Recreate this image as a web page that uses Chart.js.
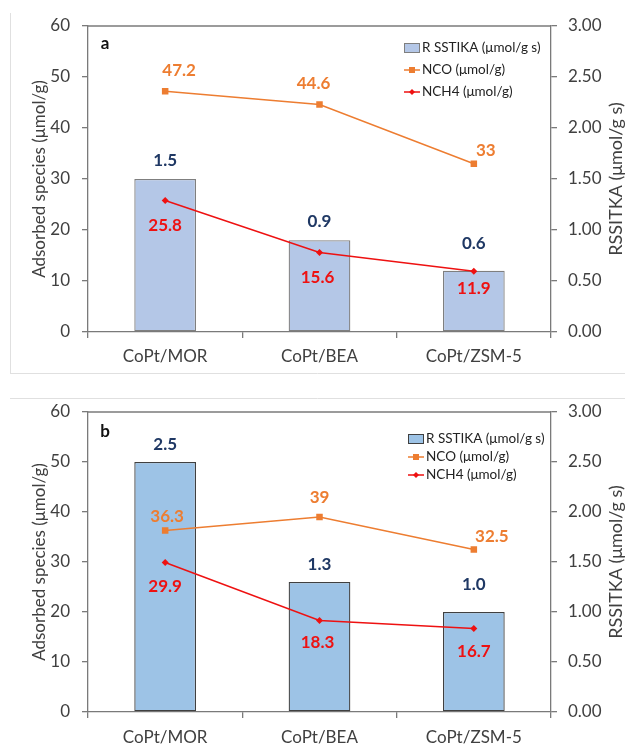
<!DOCTYPE html>
<html lang="en">
<head>
    <meta charset="UTF-8">
    <title>Adsorbed species and RSSITKA</title>
    <script src="https://cdn.jsdelivr.net/npm/chart.js@4.4.1/dist/chart.umd.min.js"></script>
    <style>
        body { margin: 0; background: #fff; }
        canvas { display: block; }
    </style>
</head>
<body>
    <canvas id="chartA" width="625" height="376"></canvas>
    <canvas id="chartB" width="625" height="368"></canvas>
<script>
// data
const categories = ['CoPt/MOR', 'CoPt/BEA', 'CoPt/ZSM-5'];
const rateA = [1.5, 0.9, 0.6];
const ncoA = [47.2, 44.6, 33];
const nch4A = [25.8, 15.6, 11.9];
const rateB = [2.5, 1.3, 1.0];
const ncoB = [36.3, 39, 32.5];
const nch4B = [29.9, 18.3, 16.7];
const leftMax = 60, leftStep = 10;
const rightMax = 3, rightStep = 0.5;

// label nudges (px), like the hand-placed labels in the original
const offRateA = [[0, -18], [0, -19], [0, -27]];
const offNcoA = [[14, -21], [-6, -21], [12, -13]];
const offNch4A = [[0, 25], [-2, 25], [0, 17]];
const offRateB = [[0, -17], [0, -17], [0, -27]];
const offNcoB = [[2, -14], [0, -19], [18, -13]];
const offNch4B = [[0, 24], [-2, 22], [0, 23]];

const FONT = 'Lato, "Open Sans", sans-serif';
const AXIS = '#7a7a7a';
const TXT = '#404040';
const ORANGE = '#ed7d31';
const RED = '#ee1111';
const NAVY = '#1f3864';

const decor = {
    id: 'decor',
    beforeDraw(chart, args, o) {
        const ctx = chart.ctx;
        ctx.save();
        ctx.fillStyle = '#fff';
        ctx.fillRect(0, 0, chart.width, chart.height);
        ctx.strokeStyle = '#e0e0e0';
        ctx.lineWidth = 1;
        ctx.beginPath();
        o.frame.forEach(function (s) { ctx.moveTo(s[0], s[1]); ctx.lineTo(s[2], s[3]); });
        ctx.stroke();
        ctx.restore();
    },
    afterDatasetsDraw(chart, args, o) {
        const ctx = chart.ctx;
        const ca = chart.chartArea;
        ctx.save();
        // top edge of plot box
        ctx.strokeStyle = AXIS;
        ctx.lineWidth = 1.3;
        ctx.beginPath();
        ctx.moveTo(ca.left, ca.top);
        ctx.lineTo(ca.right, ca.top);
        ctx.stroke();

        // value labels
        ctx.font = 'bold 17px ' + FONT;
        ctx.textAlign = 'center';
        ctx.textBaseline = 'middle';
        chart.data.datasets.forEach(function (ds, i) {
            const meta = chart.getDatasetMeta(i);
            meta.data.forEach(function (el, j) {
                const off = ds.offsets[j];
                ctx.fillStyle = ds.labelColor;
                ctx.fillText(ds.fmt(ds.data[j]), el.x + off[0], el.y + off[1]);
            });
        });

        // panel letter
        ctx.fillStyle = '#111';
        ctx.font = 'bold 17px ' + FONT;
        ctx.fillText(o.letter, o.letterX, o.letterY);

        // axis titles, both reading bottom to top
        const midY = (ca.top + ca.bottom) / 2;
        ctx.fillStyle = TXT;
        [[o.leftTitle, o.leftTitleX, 17], [o.rightTitle, o.rightTitleX, 18]].forEach(function (t) {
            ctx.save();
            ctx.font = t[2] + 'px ' + FONT;
            ctx.translate(t[1], midY);
            ctx.rotate(-Math.PI / 2);
            ctx.fillText(t[0], 0, 0);
            ctx.restore();
        });

        // legend
        const lg = o.legend;
        ctx.font = '13.5px ' + FONT;
        ctx.textAlign = 'left';
        chart.data.datasets.forEach(function (ds, i) {
            const y = lg.y + i * lg.gap;
            const x = lg.x;
            if (ds.type === 'bar') {
                ctx.fillStyle = ds.backgroundColor;
                ctx.fillRect(x, y - 5, 16, 10);
                ctx.strokeStyle = ds.borderColor;
                ctx.lineWidth = 1;
                ctx.strokeRect(x + 0.5, y - 4.5, 15, 9);
            } else {
                ctx.strokeStyle = ds.borderColor;
                ctx.lineWidth = 1.5;
                ctx.beginPath();
                ctx.moveTo(x, y);
                ctx.lineTo(x + 16, y);
                ctx.stroke();
                ctx.fillStyle = ds.borderColor;
                ctx.beginPath();
                if (ds.pointStyle === 'rect') {
                    ctx.rect(x + 5, y - 3, 6, 6);
                } else {
                    ctx.moveTo(x + 8, y - 3);
                    ctx.lineTo(x + 11, y);
                    ctx.lineTo(x + 8, y + 3);
                    ctx.lineTo(x + 5, y);
                    ctx.closePath();
                }
                ctx.fill();
            }
            ctx.fillStyle = '#222';
            ctx.fillText(ds.label, x + 18, y);
        });
        ctx.restore();
    }
};

function makeChart(id, p) {
    return new Chart(document.getElementById(id), {
        data: {
            labels: categories,
            datasets: [{
                type: 'bar',
                label: 'R SSTIKA (\u03bcmol/g s)',
                data: p.rate,
                yAxisID: 'y1',
                backgroundColor: p.barFill,
                borderColor: p.barEdge,
                borderWidth: 1.3,
                borderSkipped: false,
                barPercentage: 0.4,
                categoryPercentage: 1,
                order: 2,
                labelColor: NAVY,
                offsets: p.offRate,
                fmt: function (v) { return v.toFixed(1); }
            }, {
                type: 'line',
                label: 'NCO (\u03bcmol/g)',
                data: p.nco,
                yAxisID: 'y',
                borderColor: ORANGE,
                backgroundColor: ORANGE,
                borderWidth: 1.5,
                pointStyle: 'rect',
                pointRadius: 4.6,
                pointBorderWidth: 0,
                order: 1,
                labelColor: ORANGE,
                offsets: p.offNco,
                fmt: function (v) { return String(v); }
            }, {
                type: 'line',
                label: 'NCH4 (\u03bcmol/g)',
                data: p.nch4,
                yAxisID: 'y',
                borderColor: RED,
                backgroundColor: RED,
                borderWidth: 1.5,
                pointStyle: 'rectRot',
                pointRadius: 3.5,
                pointBorderWidth: 0,
                order: 0,
                labelColor: RED,
                offsets: p.offNch4,
                fmt: function (v) { return String(v); }
            }]
        },
        options: {
            responsive: false,
            animation: false,
            layout: { padding: { top: p.top, left: 0, right: 0, bottom: 0 } },
            plugins: {
                legend: { display: false },
                tooltip: { enabled: false },
                decor: {
                    frame: p.frame,
                    letter: p.letter, letterX: 105, letterY: p.letterY,
                    leftTitle: 'Adsorbed species (\u03bcmol/g)', leftTitleX: 40,
                    rightTitle: 'RSSITKA (\u03bcmol/g s)', rightTitleX: 616,
                    legend: p.legend
                }
            },
            scales: {
                x: {
                    grid: { drawOnChartArea: false, tickLength: 6, color: AXIS, lineWidth: 1.3, offset: true },
                    border: { color: AXIS, width: 1.3 },
                    ticks: { font: { family: FONT, size: 17 }, color: TXT, padding: p.xPad, maxRotation: 0 },
                    afterFit: function (s) { s.height = p.xHeight; }
                },
                y: {
                    position: 'left',
                    min: 0, max: leftMax,
                    grid: { drawOnChartArea: false, tickLength: 6, color: AXIS, lineWidth: 1.3 },
                    border: { color: AXIS, width: 1.3 },
                    ticks: { stepSize: leftStep, font: { family: FONT, size: 17 }, color: TXT, padding: 12 },
                    afterFit: function (s) { s.width = 88; }
                },
                y1: {
                    position: 'right',
                    min: 0, max: rightMax,
                    grid: { drawOnChartArea: false, tickLength: 6, color: AXIS, lineWidth: 1.3 },
                    border: { color: AXIS, width: 1.3 },
                    ticks: {
                        stepSize: rightStep, font: { family: FONT, size: 17 }, color: TXT, padding: 11,
                        callback: function (v) { return v.toFixed(2); }
                    },
                    afterFit: function (s) { s.width = 74; }
                }
            }
        },
        plugins: [decor]
    });
}

makeChart('chartA', {
    rate: rateA, nco: ncoA, nch4: nch4A,
    offRate: offRateA, offNco: offNcoA, offNch4: offNch4A,
    barFill: '#b4c7e7', barEdge: '#7f7f7f',
    top: 26, xHeight: 44, xPad: 8,
    letter: 'a', letterY: 44,
    legend: { x: 404, y: 48, gap: 22 },
    frame: [[10.5, 13, 10.5, 373.5], [10, 373.5, 625, 373.5]]
});

makeChart('chartB', {
    rate: rateB, nco: ncoB, nch4: nch4B,
    offRate: offRateB, offNco: offNcoB, offNch4: offNch4B,
    barFill: '#9dc3e6', barEdge: '#404040',
    top: 36, xHeight: 32, xPad: 9,
    letter: 'b', letterY: 56,
    legend: { x: 408, y: 63, gap: 18 },
    frame: [[10, 22.5, 625, 22.5]]
});
</script>
</body>
</html>
